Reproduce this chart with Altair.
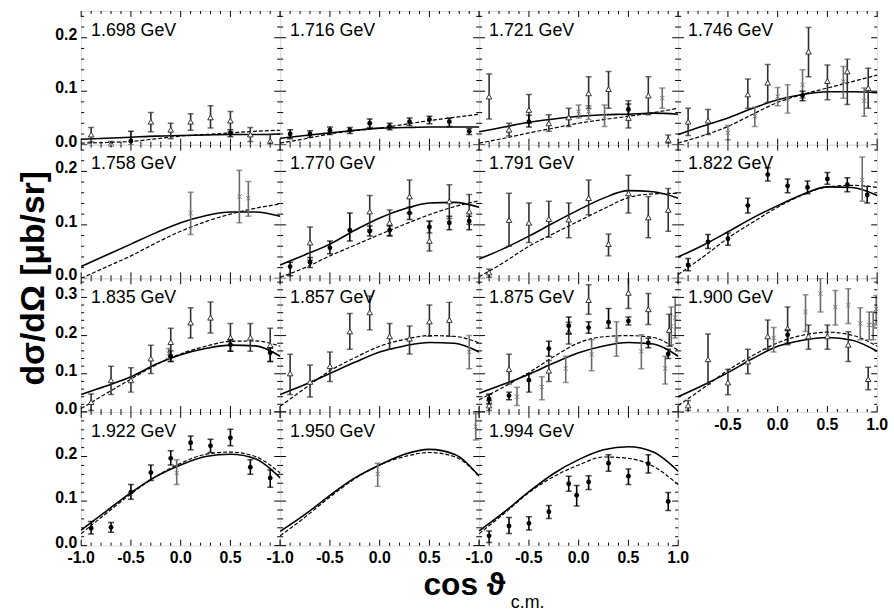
import altair as alt
import pandas as pd

# ---------------- data ----------------
ENERGIES = ["1.698", "1.716", "1.721", "1.746",
            "1.758", "1.770", "1.791", "1.822",
            "1.835", "1.857", "1.875", "1.900",
            "1.922", "1.950", "1.994"]
ROW_YMAX = [0.25, 0.25, 0.35, 0.30]
Y_LABELS = [[0.0, 0.1, 0.2], [0.0, 0.1, 0.2], [0.0, 0.1, 0.2, 0.3], [0.0, 0.1, 0.2]]
X_LABELS = {
    "1.900": [-0.5, 0.0, 0.5, 1.0],
    "1.922": [-1.0, -0.5, 0.0, 0.5],
    "1.950": [-1.0, -0.5, 0.0, 0.5],
    "1.994": [-1.0, -0.5, 0.0, 0.5, 1.0],
}

CURVE_X = [-1.0, -0.75, -0.5, -0.25, 0.0, 0.25, 0.5, 0.75, 1.0]
SOLID = {
    "1.698": [0.010, 0.012, 0.014, 0.016, 0.017, 0.018, 0.019, 0.019, 0.020],
    "1.716": [0.012, 0.017, 0.022, 0.027, 0.031, 0.032, 0.033, 0.033, 0.033],
    "1.721": [0.024, 0.033, 0.042, 0.048, 0.053, 0.056, 0.057, 0.059, 0.057],
    "1.746": [0.019, 0.035, 0.050, 0.068, 0.084, 0.094, 0.099, 0.099, 0.097],
    "1.758": [0.022, 0.043, 0.064, 0.085, 0.104, 0.117, 0.124, 0.124, 0.116],
    "1.770": [0.025, 0.044, 0.064, 0.090, 0.113, 0.130, 0.141, 0.142, 0.133],
    "1.791": [0.036, 0.056, 0.079, 0.104, 0.128, 0.150, 0.164, 0.162, 0.150],
    "1.822": [0.040, 0.062, 0.087, 0.113, 0.136, 0.157, 0.171, 0.170, 0.155],
    "1.835": [0.046, 0.068, 0.092, 0.125, 0.150, 0.166, 0.175, 0.173, 0.146],
    "1.857": [0.046, 0.072, 0.101, 0.130, 0.157, 0.173, 0.182, 0.180, 0.157],
    "1.875": [0.049, 0.073, 0.099, 0.128, 0.155, 0.173, 0.182, 0.178, 0.146],
    "1.900": [0.040, 0.070, 0.103, 0.140, 0.172, 0.188, 0.195, 0.188, 0.159],
    "1.922": [0.035, 0.077, 0.119, 0.155, 0.181, 0.200, 0.205, 0.195, 0.152],
    "1.950": [0.032, 0.070, 0.113, 0.152, 0.181, 0.205, 0.216, 0.205, 0.156],
    "1.994": [0.033, 0.075, 0.121, 0.162, 0.193, 0.215, 0.222, 0.210, 0.167],
}
DASHED = {
    "1.698": [0.003, 0.004, 0.006, 0.011, 0.016, 0.019, 0.022, 0.025, 0.027],
    "1.716": [0.003, 0.011, 0.020, 0.026, 0.031, 0.038, 0.045, 0.051, 0.057],
    "1.721": [0.003, 0.012, 0.022, 0.031, 0.040, 0.047, 0.053, 0.060, 0.068],
    "1.746": [0.003, 0.017, 0.034, 0.057, 0.079, 0.094, 0.106, 0.118, 0.130],
    "1.758": [0.000, 0.021, 0.042, 0.066, 0.088, 0.106, 0.120, 0.131, 0.139],
    "1.770": [0.002, 0.020, 0.042, 0.062, 0.082, 0.101, 0.119, 0.134, 0.145],
    "1.791": [0.003, 0.030, 0.060, 0.084, 0.107, 0.130, 0.151, 0.158, 0.159],
    "1.822": [0.007, 0.040, 0.075, 0.105, 0.133, 0.156, 0.171, 0.174, 0.170],
    "1.835": [0.009, 0.048, 0.086, 0.123, 0.152, 0.172, 0.185, 0.186, 0.172],
    "1.857": [0.015, 0.062, 0.108, 0.142, 0.172, 0.190, 0.200, 0.198, 0.181],
    "1.875": [0.032, 0.066, 0.103, 0.145, 0.181, 0.197, 0.200, 0.195, 0.161],
    "1.900": [0.017, 0.062, 0.109, 0.148, 0.181, 0.201, 0.209, 0.201, 0.172],
    "1.922": [0.027, 0.072, 0.116, 0.155, 0.185, 0.205, 0.210, 0.200, 0.163],
    "1.950": [0.022, 0.064, 0.109, 0.150, 0.181, 0.200, 0.209, 0.200, 0.156],
    "1.994": [0.027, 0.072, 0.119, 0.155, 0.181, 0.199, 0.196, 0.178, 0.137],
}

# (cos theta, value, lower end of error bar, upper end of error bar)
FILLED = {
    "1.698": [(-0.5, 0.007, 0.000, 0.025), (0.5, 0.021, 0.015, 0.028)],
    "1.716": [(-0.9, 0.020, 0.011, 0.028), (-0.7, 0.020, 0.014, 0.026), (-0.5, 0.027, 0.019, 0.033),
              (-0.3, 0.027, 0.021, 0.032), (-0.1, 0.040, 0.032, 0.048), (0.1, 0.034, 0.028, 0.040),
              (0.3, 0.043, 0.036, 0.050), (0.5, 0.047, 0.039, 0.053), (0.7, 0.043, 0.034, 0.050),
              (0.9, 0.025, 0.019, 0.030)],
    "1.721": [(-0.5, 0.043, 0.033, 0.055), (0.5, 0.066, 0.056, 0.076)],
    "1.746": [(0.25, 0.092, 0.082, 0.100)],
    "1.770": [(-0.9, 0.022, 0.005, 0.030), (-0.7, 0.030, 0.020, 0.039), (-0.5, 0.057, 0.046, 0.070),
              (-0.3, 0.090, 0.070, 0.122), (-0.1, 0.088, 0.079, 0.098), (0.1, 0.090, 0.079, 0.098),
              (0.3, 0.122, 0.110, 0.133), (0.5, 0.096, 0.085, 0.107), (0.7, 0.104, 0.091, 0.116),
              (0.9, 0.107, 0.091, 0.116)],
    "1.822": [(-0.9, 0.025, 0.014, 0.037), (-0.7, 0.068, 0.056, 0.082), (-0.5, 0.074, 0.062, 0.085),
              (-0.3, 0.136, 0.122, 0.150), (-0.1, 0.194, 0.182, 0.207), (0.1, 0.173, 0.160, 0.186),
              (0.3, 0.170, 0.158, 0.182), (0.5, 0.186, 0.176, 0.198), (0.7, 0.175, 0.162, 0.188),
              (0.9, 0.156, 0.141, 0.172)],
    "1.835": [(-0.1, 0.146, 0.132, 0.160), (0.5, 0.176, 0.159, 0.189), (0.9, 0.155, 0.132, 0.167)],
    "1.875": [(-0.9, 0.034, 0.022, 0.047), (-0.7, 0.043, 0.032, 0.052), (-0.5, 0.083, 0.052, 0.100),
              (-0.3, 0.166, 0.146, 0.185), (-0.1, 0.226, 0.205, 0.249), (0.1, 0.221, 0.206, 0.236),
              (0.3, 0.235, 0.219, 0.271), (0.5, 0.238, 0.228, 0.249), (0.7, 0.181, 0.168, 0.193),
              (0.9, 0.152, 0.140, 0.164)],
    "1.900": [(0.1, 0.202, 0.180, 0.215)],
    "1.922": [(-0.9, 0.039, 0.026, 0.054), (-0.7, 0.041, 0.030, 0.052), (-0.5, 0.120, 0.104, 0.137),
              (-0.3, 0.164, 0.146, 0.181), (-0.1, 0.196, 0.181, 0.213), (0.1, 0.231, 0.215, 0.246),
              (0.3, 0.224, 0.209, 0.239), (0.5, 0.242, 0.224, 0.261), (0.7, 0.176, 0.160, 0.193),
              (0.9, 0.152, 0.131, 0.170)],
    "1.994": [(-0.9, 0.022, 0.007, 0.033), (-0.7, 0.044, 0.027, 0.063), (-0.5, 0.050, 0.035, 0.065),
              (-0.3, 0.076, 0.061, 0.090), (-0.1, 0.139, 0.122, 0.156), (-0.02, 0.113, 0.089, 0.135),
              (0.1, 0.143, 0.126, 0.157), (0.3, 0.185, 0.167, 0.204), (0.5, 0.156, 0.137, 0.172),
              (0.7, 0.184, 0.163, 0.204), (0.9, 0.099, 0.079, 0.119)],
}
TRIANGLES = {
    "1.698": [(-0.9, 0.019, 0.005, 0.032), (-0.7, 0.002, 0.000, 0.006), (-0.3, 0.043, 0.024, 0.060),
              (-0.1, 0.028, 0.011, 0.040), (0.1, 0.043, 0.027, 0.058), (0.3, 0.051, 0.031, 0.073),
              (0.5, 0.045, 0.024, 0.062), (0.7, 0.019, 0.006, 0.032), (0.9, 0.007, 0.000, 0.019)],
    "1.721": [(-0.9, 0.090, 0.048, 0.132), (-0.7, 0.028, 0.016, 0.040), (-0.5, 0.065, 0.040, 0.094),
              (-0.3, 0.040, 0.025, 0.056), (-0.1, 0.051, 0.034, 0.068), (0.1, 0.096, 0.068, 0.127),
              (0.3, 0.104, 0.068, 0.137), (0.5, 0.050, 0.031, 0.082), (0.7, 0.092, 0.056, 0.127),
              (0.9, 0.009, 0.003, 0.018)],
    "1.746": [(-0.9, 0.043, 0.017, 0.068), (-0.7, 0.045, 0.019, 0.066), (-0.3, 0.094, 0.068, 0.123),
              (-0.1, 0.116, 0.079, 0.150), (0.31, 0.174, 0.127, 0.219), (0.5, 0.119, 0.084, 0.149),
              (0.7, 0.137, 0.075, 0.160), (0.91, 0.106, 0.068, 0.143)],
    "1.770": [(-0.7, 0.067, 0.034, 0.096), (-0.1, 0.125, 0.091, 0.155), (0.1, 0.104, 0.080, 0.128),
              (0.3, 0.153, 0.122, 0.184), (0.5, 0.070, 0.051, 0.107), (0.7, 0.144, 0.112, 0.175),
              (0.9, 0.125, 0.101, 0.157)],
    "1.791": [(-0.9, 0.011, 0.002, 0.017), (-0.7, 0.109, 0.060, 0.159), (-0.5, 0.104, 0.067, 0.141),
              (-0.3, 0.111, 0.077, 0.144), (-0.1, 0.110, 0.076, 0.141), (0.1, 0.150, 0.119, 0.184),
              (0.3, 0.064, 0.042, 0.083), (0.5, 0.159, 0.122, 0.193), (0.7, 0.114, 0.076, 0.153),
              (0.9, 0.128, 0.088, 0.168)],
    "1.835": [(-0.9, 0.026, 0.004, 0.047), (-0.7, 0.083, 0.046, 0.120), (-0.5, 0.083, 0.052, 0.116),
              (-0.3, 0.140, 0.101, 0.175), (-0.1, 0.183, 0.132, 0.219), (0.1, 0.234, 0.194, 0.273),
              (0.3, 0.247, 0.207, 0.288), (0.5, 0.195, 0.159, 0.232), (0.7, 0.195, 0.159, 0.232),
              (0.9, 0.175, 0.132, 0.219)],
    "1.857": [(-0.9, 0.101, 0.046, 0.151), (-0.7, 0.079, 0.039, 0.123), (-0.5, 0.120, 0.080, 0.157),
              (-0.3, 0.211, 0.164, 0.258), (-0.1, 0.261, 0.215, 0.304), (0.1, 0.198, 0.164, 0.232),
              (0.3, 0.192, 0.152, 0.225), (0.5, 0.237, 0.198, 0.280), (0.7, 0.241, 0.198, 0.287)],
    "1.875": [(-0.9, 0.017, 0.004, 0.030), (-0.7, 0.112, 0.073, 0.151), (-0.3, 0.108, 0.080, 0.135),
              (-0.1, 0.210, 0.178, 0.235), (0.1, 0.293, 0.256, 0.333), (0.5, 0.312, 0.271, 0.360),
              (0.7, 0.269, 0.229, 0.310), (0.91, 0.215, 0.172, 0.256)],
    "1.900": [(-0.9, 0.017, 0.004, 0.030), (-0.7, 0.138, 0.073, 0.204), (-0.5, 0.077, 0.045, 0.112),
              (-0.3, 0.132, 0.100, 0.164), (-0.1, 0.198, 0.164, 0.241), (0.1, 0.219, 0.176, 0.275),
              (0.31, 0.198, 0.164, 0.228), (0.5, 0.198, 0.164, 0.228), (0.71, 0.176, 0.132, 0.210),
              (0.91, 0.086, 0.058, 0.117)],
}
CROSSES = {
    "1.721": [(0.0, 0.062, 0.050, 0.074), (0.1, 0.062, 0.047, 0.073), (0.26, 0.053, 0.034, 0.074),
              (0.84, 0.087, 0.068, 0.106)],
    "1.746": [(-0.5, 0.022, 0.009, 0.036), (-0.23, 0.053, 0.034, 0.070), (0.0, 0.090, 0.073, 0.107),
              (0.1, 0.086, 0.059, 0.112), (0.25, 0.112, 0.087, 0.140), (0.66, 0.118, 0.087, 0.146),
              (0.87, 0.082, 0.053, 0.106)],
    "1.758": [(0.1, 0.122, 0.082, 0.161), (0.59, 0.153, 0.104, 0.202), (0.68, 0.150, 0.116, 0.181)],
    "1.822": [(0.85, 0.184, 0.144, 0.227)],
    "1.835": [(-0.12, 0.153, 0.140, 0.166)],
    "1.857": [(0.9, 0.157, 0.113, 0.200)],
    "1.875": [(-0.9, 0.032, 0.020, 0.045), (-0.62, 0.040, 0.017, 0.065), (-0.37, 0.065, 0.032, 0.092),
              (-0.13, 0.114, 0.077, 0.146), (0.13, 0.151, 0.108, 0.189), (0.38, 0.189, 0.146, 0.236),
              (0.63, 0.159, 0.113, 0.202), (0.87, 0.114, 0.073, 0.146), (0.93, 0.224, 0.176, 0.275),
              (0.97, 0.247, 0.194, 0.301)],
    "1.900": [(-0.04, 0.194, 0.157, 0.221), (0.28, 0.262, 0.211, 0.307), (0.43, 0.310, 0.262, 0.350),
              (0.58, 0.275, 0.228, 0.318), (0.71, 0.280, 0.232, 0.323), (0.83, 0.232, 0.189, 0.273),
              (0.92, 0.228, 0.189, 0.262), (0.96, 0.228, 0.189, 0.262), (0.99, 0.270, 0.228, 0.305)],
    "1.922": [(-0.04, 0.163, 0.137, 0.193)],
    "1.950": [(-0.02, 0.161, 0.133, 0.185), (0.965, 0.267, 0.237, 0.296)],
}

X_MAJOR = [-1.0, -0.5, 0.0, 0.5, 1.0]
X_MINOR = [-0.9, -0.8, -0.7, -0.6, -0.4, -0.3, -0.2, -0.1, 0.1, 0.2, 0.3, 0.4, 0.6, 0.7, 0.8, 0.9]

# ---------------- styling ----------------
W, H = 201, 135
FONT = "Liberation Sans"
XCROSS = "M-1,-1L1,1M-1,1L1,-1"


def fmt(v):
    return f"{v:.1f}"


def build_panel(idx, e):
    row, col = divmod(idx, 4)
    ymax = ROW_YMAX[row]
    xs = alt.Scale(domain=[-1, 1], nice=False, zero=False)
    ys = alt.Scale(domain=[0, ymax], nice=False, zero=False)

    y_major = [v for v in [0.0, 0.1, 0.2, 0.3] if v <= ymax + 1e-9]
    y_minor = [round(k * 0.02, 2) for k in range(1, int(round(ymax / 0.02)) + 1)
               if round(k * 0.02, 2) not in y_major and k * 0.02 < ymax]

    layers = []

    # curves
    sol = pd.DataFrame({"x": CURVE_X, "y": SOLID[e]})
    das = pd.DataFrame({"x": CURVE_X, "y": DASHED[e]})
    layers.append(alt.Chart(sol).mark_line(color="black", strokeWidth=1.6, interpolate="monotone").encode(
        x=alt.X("x:Q", scale=xs, axis=None), y=alt.Y("y:Q", scale=ys, axis=None)))
    layers.append(alt.Chart(das).mark_line(color="black", strokeWidth=1.2, strokeDash=[4, 2],
                                           interpolate="monotone").encode(
        x=alt.X("x:Q", scale=xs, axis=None), y=alt.Y("y:Q", scale=ys, axis=None)))

    # data points with error bars
    for table, kind in ((CROSSES, "cross"), (TRIANGLES, "tri"), (FILLED, "filled")):
        pts = table.get(e, [])
        if not pts:
            continue
        df = pd.DataFrame(pts, columns=["x", "y", "lo", "hi"])
        bar_col = {"filled": "black", "tri": "#2e2e2e", "cross": "#6a6a6a"}[kind]
        base = alt.Chart(df)
        X = alt.X("x:Q", scale=xs, axis=None)
        layers.append(base.mark_rule(color=bar_col, strokeWidth=1.6, clip=True).encode(
            x=X, y=alt.Y("lo:Q", scale=ys, axis=None), y2="hi:Q"))
        for end in ("lo", "hi"):
            layers.append(base.mark_tick(color=bar_col, orient="horizontal", size=6, thickness=1.5,
                                         clip=True).encode(
                x=X, y=alt.Y(f"{end}:Q", scale=ys, axis=None)))
        if kind == "filled":
            m = base.mark_point(shape="circle", filled=True, color="black", size=24, opacity=1)
        elif kind == "tri":
            m = base.mark_point(shape="triangle-up", filled=True, fill="white", stroke="#333333",
                                strokeWidth=1, size=32, opacity=1)
        else:
            m = base.mark_point(shape=XCROSS, filled=False, color="#777777", strokeWidth=1,
                                size=18, opacity=1)
        layers.append(m.encode(x=X, y=alt.Y("y:Q", scale=ys, axis=None)))

    # inward ticks (major + minor) on all four sides
    def xt(vals, length, top):
        d = pd.DataFrame({"t": vals})
        y0, y1 = (0, length) if top else (H, H - length)
        return alt.Chart(d).mark_rule(color="black", strokeWidth=1).encode(
            x=alt.X("t:Q", scale=xs, axis=None), y=alt.value(y0), y2=alt.value(y1))

    def yt(vals, length, right):
        d = pd.DataFrame({"t": vals})
        x0, x1 = (W, W - length) if right else (0, length)
        return alt.Chart(d).mark_rule(color="black", strokeWidth=1).encode(
            y=alt.Y("t:Q", scale=ys, axis=None), x=alt.value(x0), x2=alt.value(x1))

    for top in (False, True):
        layers.append(xt(X_MAJOR, 6, top))
        layers.append(xt(X_MINOR, 3, top))
    for right in (False, True):
        layers.append(yt(y_major, 6, right))
        layers.append(yt(y_minor, 3, right))

    # tick labels, placed through the panel's scales
    if col == 0:
        yl = pd.DataFrame({"v": Y_LABELS[row], "s": [fmt(v) for v in Y_LABELS[row]]})
        layers.append(alt.Chart(yl).mark_text(align="right", baseline="middle", font=FONT, fontSize=16,
                                              fontWeight="bold", color="black", dy=-3).encode(
            y=alt.Y("v:Q", scale=ys, axis=None), x=alt.value(-4), text="s:N"))
    if e in X_LABELS:
        xl = pd.DataFrame({"v": X_LABELS[e], "s": [fmt(v) for v in X_LABELS[e]]})
        layers.append(alt.Chart(xl).mark_text(align="center", baseline="top", font=FONT, fontSize=16,
                                              fontWeight="bold", color="black").encode(
            x=alt.X("v:Q", scale=xs, axis=None), y=alt.value(H + 5), text="s:N"))

    # energy label
    lab = pd.DataFrame({"t": [f"{e} GeV"]})
    layers.append(alt.Chart(lab).mark_text(align="left", baseline="alphabetic", font=FONT,
                                           fontSize=18, color="black").encode(
        text="t:N", x=alt.value(10), y=alt.value(25)))

    # global axis titles attached to panels
    if e == "1.758":
        t = pd.DataFrame({"t": ["dσ/dΩ [μb/sr]"]})
        layers.append(alt.Chart(t).mark_text(angle=270, align="center", baseline="middle", font=FONT,
                                             fontSize=34, fontWeight="bold", color="black").encode(
            text="t:N", x=alt.value(-48), y=alt.value(135)))
    if e == "1.950":
        t1 = pd.DataFrame({"t": ["cos ϑ"]})
        t2 = pd.DataFrame({"t": ["c.m."]})
        layers.append(alt.Chart(t1).mark_text(align="center", baseline="alphabetic", font=FONT,
                                              fontSize=32, fontWeight="bold", color="black").encode(
            text="t:N", x=alt.value(186), y=alt.value(185)))
        layers.append(alt.Chart(t2).mark_text(align="left", baseline="alphabetic", font=FONT,
                                              fontSize=18, color="black").encode(
            text="t:N", x=alt.value(233), y=alt.value(198)))

    return alt.layer(*layers).properties(width=W, height=H)


panels = [build_panel(i, e) for i, e in enumerate(ENERGIES)]

chart = alt.concat(*panels, columns=4, spacing=0, bounds="flush").properties(
    padding={"left": 16, "top": 7, "right": 5, "bottom": 5}
).configure_view(stroke="black", strokeWidth=2).configure(background="white")

chart.save("out.html", embed_options={"renderer": "svg", "actions": False})
